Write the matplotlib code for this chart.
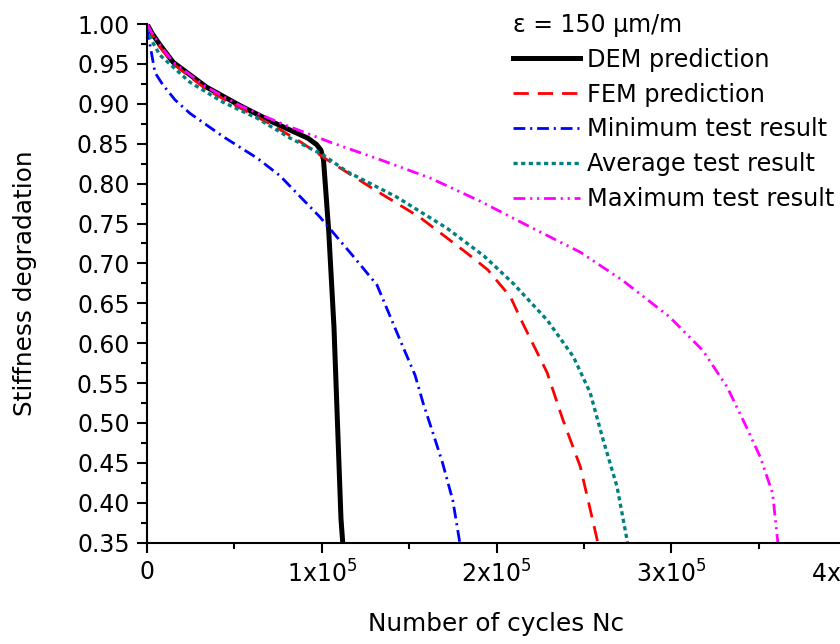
# Stiffness degradation vs number of cycles (eps = 150 um/m)
import numpy as np
import matplotlib
matplotlib.use("Agg")
import matplotlib.pyplot as plt
from matplotlib.ticker import MultipleLocator, FuncFormatter

# curves (cycles, stiffness ratio)
dem_n = [0, 3000, 7400, 15000, 34000, 53000, 72000, 92000, 97000, 99500, 101000, 104000, 107000, 109000, 111000, 112000]
dem_s = [1.0, 0.988, 0.974, 0.952, 0.921, 0.898, 0.877, 0.857, 0.849, 0.842, 0.83, 0.74, 0.62, 0.50, 0.38, 0.35]

fem_n = [0, 3000, 7000, 15000, 34000, 53000, 72000, 88000, 103000, 129000, 156000, 183000, 195000, 208000, 215000, 229000, 238000, 248000, 258000]
fem_s = [1.0, 0.987, 0.972, 0.950, 0.918, 0.895, 0.873, 0.852, 0.830, 0.794, 0.758, 0.713, 0.692, 0.658, 0.625, 0.563, 0.504, 0.445, 0.35]

min_n = [0, 1700, 4600, 9000, 16000, 24600, 43500, 63000, 76000, 99000, 118000, 131600, 144800, 153400, 158000, 163700, 169000, 175000, 179000]
min_s = [0.995, 0.974, 0.939, 0.924, 0.905, 0.888, 0.859, 0.832, 0.810, 0.758, 0.709, 0.673, 0.604, 0.560, 0.525, 0.487, 0.451, 0.403, 0.35]

avg_n = [0, 3000, 7400, 24600, 43500, 63000, 81900, 100700, 114500, 143000, 171700, 193000, 209500, 229000, 244000, 253600, 261000, 269000, 275000]
avg_s = [0.995, 0.978, 0.961, 0.927, 0.902, 0.882, 0.857, 0.836, 0.815, 0.783, 0.744, 0.709, 0.675, 0.629, 0.583, 0.538, 0.479, 0.420, 0.35]

max_n = [0, 3000, 7400, 15000, 34000, 53000, 76100, 91600, 104700, 133400, 162000, 190600, 219000, 248000, 272000, 299000, 318000, 332000, 343000, 351000, 358000, 361000]
max_s = [1.0, 0.988, 0.974, 0.952, 0.921, 0.898, 0.876, 0.863, 0.852, 0.830, 0.807, 0.778, 0.746, 0.714, 0.679, 0.633, 0.591, 0.545, 0.495, 0.457, 0.412, 0.35]

plt.rcParams['font.family'] = ['DejaVu Sans']
plt.rcParams['font.size'] = 17
plt.rcParams['lines.scale_dashes'] = False

fig = plt.figure(figsize=(8.4, 6.44), dpi=100)
ax = fig.add_axes([147 / 840, 101.3 / 644, 699 / 840, 518.7 / 644])

ax.plot(dem_n, dem_s, color='black', lw=3.6, solid_joinstyle='round', label='DEM prediction')
ax.plot(fem_n, fem_s, color='#FF0000', lw=2.0, dashes=(11, 6.5), label='FEM prediction')
ax.plot(min_n, min_s, color='#0000FF', lw=2.0, dashes=(8.5, 3.5, 1.5, 3.5), label='Minimum test result')
ax.plot(avg_n, avg_s, color='#008080', lw=2.4, dashes=(3, 2.5), label='Average test result')
ax.plot(max_n, max_s, color='#FF00FF', lw=2.0, dashes=(8.5, 3.5, 1.5, 3.5, 1.5, 3.5), label='Maximum test result')

ax.set_xlim(0, 400000)
ax.set_ylim(0.35, 1.0)
ax.xaxis.set_major_locator(MultipleLocator(100000))
ax.xaxis.set_minor_locator(MultipleLocator(50000))
ax.yaxis.set_major_locator(MultipleLocator(0.05))
ax.yaxis.set_minor_locator(MultipleLocator(0.025))
ax.xaxis.set_major_formatter(FuncFormatter(lambda v, p: '0' if v == 0 else f'{int(round(v / 1e5))}x10$^5$'))
ax.yaxis.set_major_formatter(FuncFormatter(lambda v, p: f'{v:.2f}'))

for s in ['top', 'right']:
    ax.spines[s].set_visible(False)
for s in ['left', 'bottom']:
    ax.spines[s].set_linewidth(1.5)
ax.tick_params(which='major', direction='out', length=7.5, width=1.5, pad=5)
ax.tick_params(which='minor', direction='out', length=4, width=1.5)

ax.set_xlabel('Number of cycles Nc', fontsize=17.8)
ax.set_ylabel('Stiffness degradation', fontsize=17.8)
ax.xaxis.set_label_coords(0.5, -0.133)
ax.yaxis.set_label_coords(-0.157, 0.5)

leg = ax.legend(loc='upper left', bbox_to_anchor=(513 / 840, 1 - 13 / 644), bbox_transform=fig.transFigure,
                frameon=False, title='ε = 150 μm/m', title_fontsize=17, fontsize=17.3,
                handlelength=2.8, handletextpad=0.3, labelspacing=0.45, borderpad=0, borderaxespad=0,
                alignment='left')

fig.savefig('out.png', dpi=100)
